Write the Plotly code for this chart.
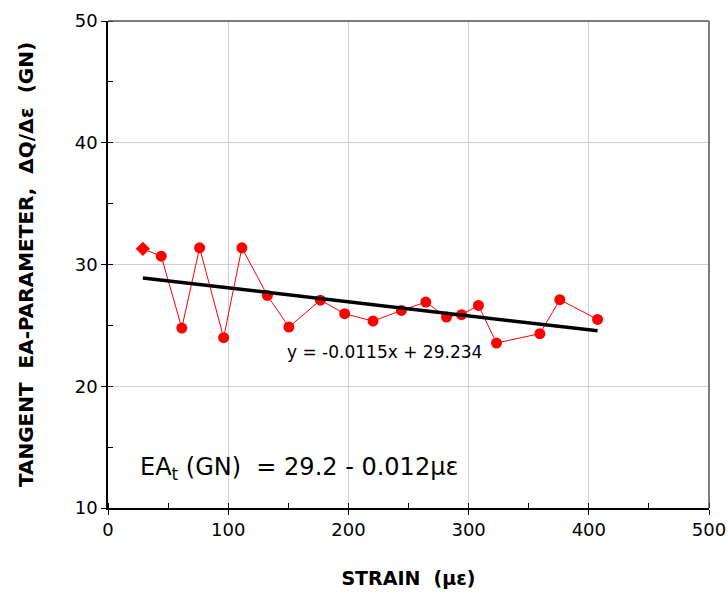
import plotly.graph_objects as go

strain = [29.0, 44.3, 61.4, 76.2, 96.2, 111.4, 132.6, 150.5, 176.7, 196.9,
          220.5, 244.1, 264.4, 281.6, 294.1, 308.2, 323.2, 359.3, 375.9, 407.3]
ea = [31.29, 30.68, 24.78, 31.37, 23.99, 31.37, 27.46, 24.86, 27.07, 25.96,
      25.35, 26.23, 26.91, 25.68, 25.88, 26.64, 23.55, 24.32, 27.11, 25.49]
slope = -0.0115
intercept = 29.234
x_ticks = [0, 100, 200, 300, 400, 500]
y_ticks = [10, 20, 30, 40, 50]

symbols = ["diamond"] + ["circle"] * (len(strain) - 1)
font = "DejaVu Sans, Arial, sans-serif"

fig = go.Figure()
fig.add_trace(go.Scatter(
    x=strain, y=ea, mode="lines+markers",
    line=dict(color="#ff0000", width=1),
    marker=dict(color="#ff0000", size=11, symbol=symbols, line=dict(width=0)),
    showlegend=False, cliponaxis=False))
fit_x = [strain[0], strain[-1]]
fit_y = [slope * v + intercept for v in fit_x]
fig.add_trace(go.Scatter(
    x=fit_x, y=fit_y, mode="lines",
    line=dict(color="black", width=3.5), showlegend=False))

fig.add_annotation(x=147, y=22.8, xref="x", yref="y", text="y = -0.0115x + 29.234",
                   showarrow=False, xanchor="left", yanchor="middle",
                   font=dict(family=font, size=17, color="black"))
fig.add_annotation(x=25, y=13.25, xref="x", yref="y",
                   text="EA<sub>t</sub> (GN)  = 29.2 - 0.012\u03bc\u03b5",
                   showarrow=False, xanchor="left", yanchor="middle",
                   font=dict(family=font, size=24, color="black"))

fig.update_layout(
    width=728, height=592,
    margin=dict(l=108, r=19, t=21, b=84),
    paper_bgcolor="white", plot_bgcolor="white",
    font=dict(family=font, size=18, color="black"),
    xaxis=dict(range=[0, 500], tickvals=x_ticks, ticks="outside", ticklen=5,
               tickcolor="black", showline=True, linecolor="black", linewidth=1.5,
               mirror=False, showgrid=True, gridcolor="#d0d0d0", gridwidth=1,
               zeroline=False, automargin=False,
               minor=dict(dtick=50, ticks="inside", ticklen=5, tickcolor="black", showgrid=False),
               title=dict(text="<b>STRAIN  (\u03bc\u03b5)</b>", font=dict(size=19), standoff=32)),
    yaxis=dict(range=[10, 50], tickvals=y_ticks, ticks="outside", ticklen=5,
               tickcolor="black", showline=True, linecolor="black", linewidth=1.5,
               showgrid=True, gridcolor="#d0d0d0", gridwidth=1, zeroline=False,
               automargin=False,
               minor=dict(dtick=5, ticks="inside", ticklen=5, tickcolor="black", showgrid=False),
               title=dict(text="<b>TANGENT  EA-PARAMETER,  \u0394Q/\u0394\u03b5  (GN)</b>",
                          font=dict(size=20), standoff=36)),
)
fig.add_shape(type="line", xref="paper", yref="paper", x0=0, x1=1, y0=1, y1=1,
              line=dict(color="#505050", width=1.5))
fig.add_shape(type="line", xref="paper", yref="paper", x0=1, x1=1, y0=0, y1=1,
              line=dict(color="#505050", width=1.5))

fig.write_html("out.html", config={"displayModeBar": False},
               post_script="document.body.style.margin='0px';")
